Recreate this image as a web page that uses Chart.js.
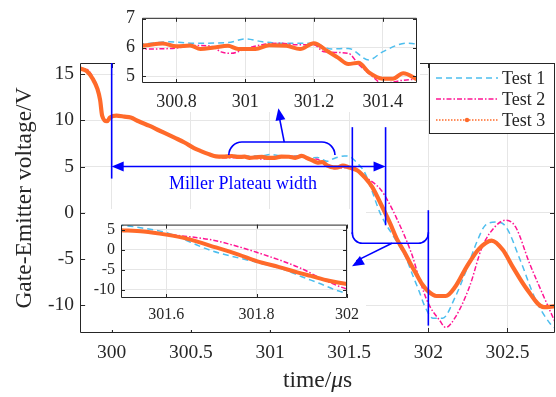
<!DOCTYPE html>
<html>
<head>
<meta charset="utf-8">
<script src="https://cdn.jsdelivr.net/npm/chart.js@4.4.1/dist/chart.umd.min.js"></script>
<style>
  body { margin: 0; background: #fff; }
  #wrap { position: relative; width: 556px; height: 397px; overflow: hidden; }
  canvas { position: absolute; }
</style>
</head>
<body>
<div id="wrap">
  <canvas id="main" width="556" height="397" style="left:0;top:0"></canvas>
  <canvas id="topInset" width="305" height="112" style="left:115px;top:0"></canvas>
  <canvas id="botInset" width="280" height="121" style="left:86px;top:209px"></canvas>
  <canvas id="ann" width="556" height="397" style="left:0;top:0;pointer-events:none"></canvas>
</div>
<script>
// ---- data (time in us, voltage in V) ----
const t1Time = [299.80,299.845,299.88,299.91,299.927,299.94,299.97,299.99,300.03,300.08,300.12,300.17,300.24,300.30,300.35,300.40,300.46,300.52,300.56,300.62,300.66,300.70,300.78,300.85,300.95,301.00,301.05,301.10,301.20,301.25,301.30,301.36,301.40,301.47,301.50,301.55,301.60,301.70,301.80,301.86,301.90,301.94,301.98,302.03,302.09,302.17,302.24,302.31,302.36,302.43,302.49,302.58,302.68,302.77,302.80];
const t1Volt = [15.7,15.4,14.4,13.3,12.1,10.6,10.0,10.3,10.5,10.4,10.3,9.9,9.5,9.0,8.6,8.1,7.6,7.0,6.7,6.3,6.15,6.13,6.2,6.15,6.17,6.3,6.2,6.15,6.15,5.95,5.97,5.57,5.85,6.15,6.1,5.4,4.3,-0.2,-3.1,-4.9,-6.7,-8.4,-10.2,-11.4,-11.4,-9.1,-6.2,-3.0,-1.35,-1.0,-1.5,-5.1,-9.5,-12.0,-12.5];

const t2Time = [299.80,299.845,299.88,299.91,299.927,299.94,299.97,299.99,300.03,300.08,300.12,300.17,300.24,300.30,300.35,300.40,300.46,300.52,300.56,300.62,300.66,300.70,300.80,300.85,300.90,300.93,300.96,301.00,301.05,301.10,301.15,301.20,301.23,301.30,301.33,301.37,301.40,301.45,301.50,301.55,301.60,301.70,301.744,301.80,301.90,301.94,302.00,302.07,302.11,302.17,302.26,302.34,302.43,302.49,302.55,302.64,302.73,302.80];
const t2Volt = [15.6,15.5,14.7,13.6,12.4,10.8,10.0,10.3,10.5,10.4,10.3,9.9,9.4,8.9,8.5,8.1,7.6,7.0,6.7,6.3,6.05,5.95,5.98,6.07,6.05,5.85,5.8,5.95,6.1,6.15,6.1,6.1,5.85,5.8,5.42,5.0,4.75,4.85,4.9,4.5,3.9,2.5,1.3,-0.6,-4.7,-7.0,-9.8,-11.6,-12.4,-11.3,-8.0,-3.7,-1.35,-0.8,-1.5,-5.5,-9.1,-11.8];

const t3Time = [299.80,299.845,299.88,299.91,299.927,299.94,299.97,299.99,300.03,300.08,300.12,300.17,300.24,300.30,300.35,300.40,300.46,300.52,300.56,300.62,300.66,300.70,300.76,300.80,300.84,300.87,300.91,300.95,300.98,301.03,301.07,301.12,301.16,301.20,301.24,301.27,301.30,301.33,301.36,301.40,301.43,301.46,301.50,301.55,301.60,301.645,301.71,301.76,301.80,301.85,301.89,301.92,301.96,302.00,302.05,302.11,302.17,302.24,302.32,302.40,302.47,302.535,302.62,302.73,302.80];
const t3Volt = [15.6,15.3,14.5,13.4,12.2,10.5,9.9,10.3,10.5,10.4,10.3,9.9,9.4,8.9,8.5,8.1,7.6,7.0,6.7,6.3,6.1,6.07,6.14,6.04,6.07,5.95,6.0,6.06,5.95,5.95,6.08,6.06,5.95,6.15,5.87,5.65,5.43,5.47,5.14,4.92,4.92,5.11,4.9,4.6,3.8,2.8,0.6,-1.2,-2.8,-4.3,-5.6,-6.5,-7.7,-8.5,-9.0,-9.0,-8.0,-5.9,-3.9,-3.0,-4.0,-5.9,-8.2,-10.2,-10.1];

const seriesNames = ['Test 1', 'Test 2', 'Test 3'];

// tick labels
const mainXTicks = [300, 300.5, 301, 301.5, 302, 302.5];
const mainYTicks = [-10, -5, 0, 5, 10, 15];
const topXTicks = [300.8, 301, 301.2, 301.4];
const topYTicks = [5, 6, 7];
const botXTicks = [301.6, 301.8, 302];
const botYTicks = [-10, -5, 0, 5];

// ---- styling ----
const FONT = 'Liberation Serif';
const AX = '#262626';
const GRID = '#e6e6e6';
const C1 = '#4DBEEE', C2 = '#FF1493', C3 = '#FF6A2A';
const BLUE = '#0000FF';

function pts(ts, vs) { return ts.map((t, i) => ({ x: t, y: vs[i] })); }

function series(lw3, lw) {
  return [
    { label: seriesNames[0], data: pts(t1Time, t1Volt), borderColor: C1, borderWidth: lw, borderDash: [6, 4], order: 3 },
    { label: seriesNames[1], data: pts(t2Time, t2Volt), borderColor: C2, borderWidth: lw, borderDash: [5, 2, 1.5, 2], order: 2 },
    { label: seriesNames[2], data: pts(t3Time, t3Volt), borderColor: C3, borderWidth: lw3, order: 1 }
  ].map(d => Object.assign(d, { pointRadius: 0, cubicInterpolationMode: 'monotone', clip: 0, fill: false }));
}

const bgPlugin = {
  id: 'bg',
  beforeDraw(chart) {
    const ctx = chart.ctx;
    ctx.save();
    ctx.fillStyle = '#fff';
    ctx.fillRect(0, 0, chart.width, chart.height);
    ctx.restore();
  }
};

// box on all four sides with inward ticks, matlab style
const framePlugin = {
  id: 'frame',
  afterDatasetsDraw(chart, args, o) {
    const { ctx, chartArea: a, scales: { x, y } } = chart;
    const L = o.tick || 5;
    ctx.save();
    ctx.strokeStyle = AX;
    ctx.lineWidth = 1;
    ctx.beginPath();
    ctx.rect(a.left + 0.5, a.top + 0.5, a.right - a.left - 1, a.bottom - a.top - 1);
    x.ticks.forEach(t => {
      const px = Math.round(x.getPixelForValue(t.value)) + 0.5;
      ctx.moveTo(px, a.bottom); ctx.lineTo(px, a.bottom - L);
      ctx.moveTo(px, a.top); ctx.lineTo(px, a.top + L);
    });
    y.ticks.forEach(t => {
      const py = Math.round(y.getPixelForValue(t.value)) + 0.5;
      ctx.moveTo(a.left, py); ctx.lineTo(a.left + L, py);
      ctx.moveTo(a.right, py); ctx.lineTo(a.right - L, py);
    });
    ctx.stroke();
    ctx.restore();
  }
};

function makeChart(id, c) {
  return new Chart(document.getElementById(id), {
    type: 'line',
    data: { datasets: series(c.lw3, c.lw) },
    options: {
      responsive: false,
      animation: false,
      events: [],
      layout: { padding: { top: c.top, right: c.right, left: 0, bottom: 0 } },
      plugins: { legend: { display: false }, tooltip: { enabled: false }, frame: { tick: c.tick } },
      scales: {
        x: {
          type: 'linear', min: c.xMin, max: c.xMax,
          afterBuildTicks: s => { s.ticks = c.xTicks.map(v => ({ value: v })); },
          afterFit: s => { s.height = c.xH; },
          grid: { color: GRID, drawTicks: false },
          border: { display: false },
          ticks: { font: { family: FONT, size: c.fs }, color: AX, padding: c.xPad, maxRotation: 0, autoSkip: false, callback: v => String(v) }
        },
        y: {
          type: 'linear', min: c.yMin, max: c.yMax,
          afterBuildTicks: s => { s.ticks = c.yTicks.map(v => ({ value: v })); },
          afterFit: s => { s.width = c.yW; },
          grid: { color: GRID, drawTicks: false },
          border: { display: false },
          ticks: { font: { family: FONT, size: c.fs }, color: AX, padding: c.yPad, autoSkip: false, callback: v => String(v) }
        }
      }
    },
    plugins: [bgPlugin, framePlugin]
  });
}

const main = makeChart('main', {
  xMin: 299.8, xMax: 302.8, yMin: -13, yMax: 16.2, xTicks: mainXTicks, yTicks: mainYTicks,
  top: 63, right: 1, yW: 80, xH: 64, fs: 19.5, xPad: 8, yPad: 6, lw: 1.5, lw3: 4.2, tick: 5
});
makeChart('topInset', {
  xMin: 300.7, xMax: 301.5, yMin: 4.77, yMax: 7.03, xTicks: topXTicks, yTicks: topYTicks,
  top: 14, right: 3, yW: 27, xH: 29, fs: 18, xPad: 8, yPad: 7, lw: 1.5, lw3: 4, tick: 4
});
makeChart('botInset', {
  xMin: 301.5, xMax: 302, yMin: -12, yMax: 6.3, xTicks: botXTicks, yTicks: botYTicks,
  top: 7, right: 15, yW: 35, xH: 32, fs: 16, xPad: 7, yPad: 6, lw: 1.5, lw3: 4, tick: 4
});

// ---- overlay: annotations, legend, axis titles ----
const ov = document.getElementById('ann').getContext('2d');
const X = v => main.scales.x.getPixelForValue(v);
const Y = v => main.scales.y.getPixelForValue(v);

function arrowHead(x0, y0, x1, y1, len, half) {
  const ang = Math.atan2(y1 - y0, x1 - x0);
  const bx = x1 - len * Math.cos(ang), by = y1 - len * Math.sin(ang);
  const nx = -Math.sin(ang) * half, ny = Math.cos(ang) * half;
  ov.beginPath();
  ov.moveTo(x1, y1);
  ov.lineTo(bx + nx, by + ny);
  ov.lineTo(bx - nx, by - ny);
  ov.closePath();
  ov.fill();
}
function line(x0, y0, x1, y1) {
  ov.beginPath(); ov.moveTo(x0, y0); ov.lineTo(x1, y1); ov.stroke();
}
function bracket(x1, x2, yEnd, yMid, r) {
  const s = yMid > yEnd ? 1 : -1;
  ov.beginPath();
  ov.moveTo(x1, yEnd);
  ov.arcTo(x1, yMid, x1 + r, yMid, r);
  ov.lineTo(x2 - r, yMid);
  ov.arcTo(x2, yMid, x2, yMid - s * r, r);
  ov.lineTo(x2, yEnd);
  ov.stroke();
}

ov.strokeStyle = BLUE;
ov.fillStyle = BLUE;
ov.lineWidth = 1.6;

// left marker + plateau width arrow
const a = main.chartArea;
line(X(300), a.top, X(300), Y(3.7));
line(X(300) + 8, Y(5), X(301.73) - 8, Y(5));
arrowHead(X(300) + 20, Y(5), X(300), Y(5), 12, 5);
arrowHead(X(301.73) - 20, Y(5), X(301.73), Y(5), 12, 5);

ov.font = '18px "' + FONT + '"';
ov.textAlign = 'center';
ov.textBaseline = 'middle';
ov.fillText('Miller Plateau width', X(300.83), Y(3.1));

// plateau bracket pointing to upper inset
bracket(X(300.74), X(301.41), Y(6.35), Y(7.65), 13);
line(X(301.09), Y(7.65), X(301.056), Y(10.6));
arrowHead(X(301.09), Y(7.65), X(301.053), Y(11.3), 12, 5);

// falling edge markers and bracket pointing to lower inset
line(X(301.52), Y(9.26), X(301.52), Y(-2.3));
line(X(301.73), Y(9.26), X(301.73), Y(-1.35));
line(X(302), Y(0.28), X(302), Y(-12.2));
bracket(X(301.52), X(302), Y(-2.1), Y(-3.3), 10);
line(X(301.77), Y(-3.3), X(301.545), Y(-5.2));
arrowHead(X(301.77), Y(-3.3), X(301.518), Y(-5.78), 12, 5);

// legend
ov.save();
ov.fillStyle = '#fff';
ov.strokeStyle = AX;
ov.lineWidth = 1;
ov.fillRect(429.5, 63.5, 125, 70);
ov.strokeRect(429.5, 63.5, 125, 70);
const legY = [78, 99, 120];
const legCol = [C1, C2, C3];
const legDash = [[6, 4], [5, 2, 1.5, 2], [1.5, 1.5]];
ov.font = '18px "' + FONT + '"';
ov.textAlign = 'left';
ov.textBaseline = 'middle';
seriesNames.forEach((n, i) => {
  ov.strokeStyle = legCol[i];
  ov.lineWidth = 1.5;
  ov.setLineDash(legDash[i]);
  line(436, legY[i], 498, legY[i]);
  ov.setLineDash([]);
  if (i === 2) {
    ov.fillStyle = C3;
    ov.beginPath(); ov.arc(467, legY[i], 2.2, 0, Math.PI * 2); ov.fill();
  }
  ov.fillStyle = AX;
  ov.fillText(n, 502, legY[i] + 1);
});
ov.restore();

// axis titles
ov.fillStyle = AX;
ov.textBaseline = 'middle';
const fsT = 23.5;
const p1 = 'time/', p2 = '\u03bc', p3 = 's';
ov.font = fsT + 'px "' + FONT + '"';
const w1 = ov.measureText(p1).width, w3 = ov.measureText(p3).width;
ov.font = 'italic ' + fsT + 'px "' + FONT + '"';
const w2 = ov.measureText(p2).width;
let xs = (a.left + a.right) / 2 - (w1 + w2 + w3) / 2;
ov.textAlign = 'left';
ov.font = fsT + 'px "' + FONT + '"';
ov.fillText(p1, xs, 381);
ov.font = 'italic ' + fsT + 'px "' + FONT + '"';
ov.fillText(p2, xs + w1, 381);
ov.font = fsT + 'px "' + FONT + '"';
ov.fillText(p3, xs + w1 + w2, 381);

ov.save();
ov.translate(25, (a.top + a.bottom) / 2);
ov.rotate(-Math.PI / 2);
ov.textAlign = 'center';
ov.fillText('Gate-Emitter voltage/V', 0, 0);
ov.restore();
</script>
</body>
</html>
